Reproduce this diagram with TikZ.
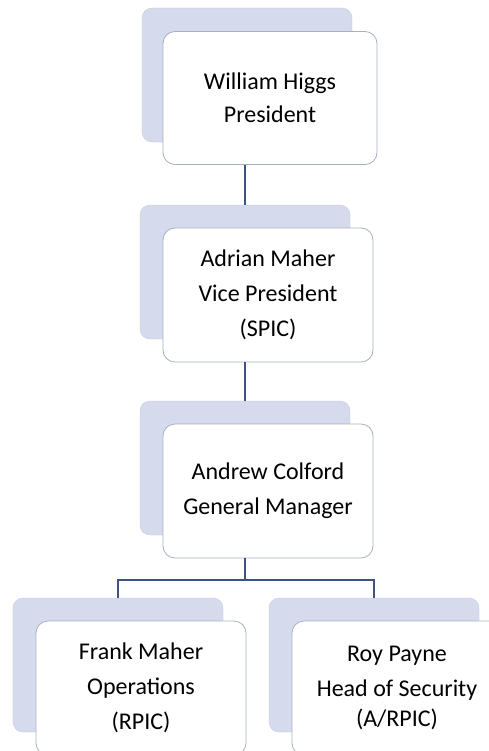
\documentclass[tikz,border=0pt]{standalone}
\usepackage{fontspec}
\setmainfont{Carlito}
\definecolor{backblue}{RGB}{213,218,236}
\definecolor{edgegray}{RGB}{168,176,192}
\definecolor{linkblue}{RGB}{62,84,128}
\tikzset{
  backcard/.style={rectangle, rounded corners=10bp, fill=backblue, draw=backblue!85!gray,
    minimum width=210bp, minimum height=134bp, inner sep=0pt},
  card/.style={rectangle, rounded corners=12bp, fill=white, draw=edgegray, line width=0.8bp,
    minimum width=210bp, minimum height=134bp, align=center, inner sep=0pt,
    font=\fontsize{24bp}{35bp}\selectfont},
  link/.style={draw=linkblue, line width=1.1bp}
}
\begin{document}
\begin{tikzpicture}[x=1bp,y=-1bp]
\useasboundingbox (0,0) rectangle (489,751);
\clip (0,0) rectangle (489,751);
\fill[white] (0,0) rectangle (489,751);

% shadow cards
\node[backcard] (pres-sh) at (247,75) {};
\node[backcard] (vp-sh) at (245,272) {};
\node[backcard] (gm-sh) at (245,468) {};
\node[backcard] (ops-sh) at (118,665) {};
\node[backcard] (sec-sh) at (374,665) {};

% front cards
\node[card, minimum width=214bp, minimum height=133bp] (pres) at ([shift={(23,23)}]pres-sh.center) {William Higgs\\[-2bp]President};
\node[card] (vp) at ([shift={(23,23)}]vp-sh.center) {Adrian Maher\\Vice President\\(SPIC)};
\node[card] (gm) at ([shift={(23,23)}]gm-sh.center) {Andrew Colford\\General Manager};
\node[card] (ops) at ([shift={(23,23)}]ops-sh.center) {Frank Maher\\Operations\\(RPIC)};
\node[card] (sec) at ([shift={(23,23)}]sec-sh.center) {Roy Payne\\Head of Security\\[-5bp](A/RPIC)};

% connectors
\coordinate (fork) at (245,580);
\draw[link] (vp-sh.north |- pres.south) -- (vp-sh.north);
\draw[link] (gm-sh.north |- vp.south) -- (gm-sh.north);
\draw[link] (gm.south -| gm-sh) -- (fork);
\draw[link] (ops-sh.north) |- (fork) -| (sec-sh.north);

\end{tikzpicture}
\end{document}
